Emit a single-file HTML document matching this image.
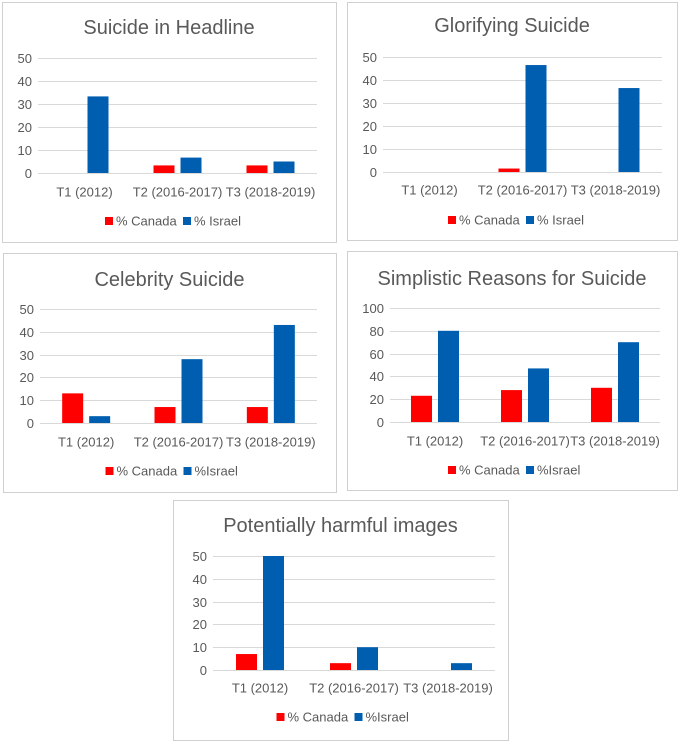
<!DOCTYPE html>
<html><head><meta charset="utf-8"><style>
body{margin:0;background:#fff;width:681px;height:742px;overflow:hidden}
svg{display:block}
text{font-family:"Liberation Sans",sans-serif;fill:#595959}
</style></head><body>
<svg id="c" width="681" height="742" xmlns="http://www.w3.org/2000/svg"></svg>
<script>
const categories = ["T1 (2012)", "T2 (2016-2017)", "T3 (2018-2019)"];
const titles = ["Suicide in Headline", "Glorifying Suicide", "Celebrity Suicide", "Simplistic Reasons for Suicide", "Potentially harmful images"];
const canadaValues = [[0, 3.3, 3.3], [0, 1.5, 0], [13, 7, 7], [23, 28, 30], [7, 3, 0]];
const israelValues = [[33.3, 6.7, 5], [0, 46.5, 36.5], [3, 28, 43], [80, 47, 70], [50, 10, 3]];
const yMax = [50, 50, 50, 100, 50];
const yStep = [10, 10, 10, 20, 10];
const legendCanada = ["% Canada", "% Canada", "% Canada", "% Canada", "% Canada"];
const legendIsrael = ["% Israel", "% Israel", "%Israel", "%Israel", "%Israel"];

const layouts = [
 {bx:2,by:2,bw:334,bh:240,px0:38,px1:317,py0:173,py1:58,ty:27,ly:192,gy:221},
 {bx:347,by:2,bw:330,bh:238,px0:383,px1:662,py0:172,py1:57,ty:25,ly:190,gy:220},
 {bx:3,by:253,bw:333,bh:239,px0:40,px1:317,py0:423,py1:309,ty:279,ly:442,gy:471},
 {bx:347,by:251,bw:330,bh:239,px0:390,px1:660,py0:422,py1:308,ty:278,ly:441,gy:470},
 {bx:173,by:500,bw:335,bh:240,px0:213,px1:495,py0:670,py1:556,ty:525,ly:688,gy:717}
];
const svg = document.getElementById('c');
const NS = "http://www.w3.org/2000/svg";
function mk(tag, attrs, parent){const e=document.createElementNS(NS,tag);for(const k in attrs)e.setAttribute(k,attrs[k]);parent.appendChild(e);return e;}

layouts.forEach((L,i)=>{
  const g = mk('g',{},svg);
  
  
  const b = mk('rect',{x:L.bx+0.5,y:L.by+0.5,width:L.bw,height:L.bh,fill:'#fff',stroke:'#d0d0d0','stroke-width':1},g);
  
  
  const t = mk('text',{x:L.bx+L.bw/2,y:L.ty+7,'text-anchor':'middle','font-size':20},g);
  t.textContent = titles[i];
  
  
  const yScale = v => L.py0 - (v / yMax[i]) * (L.py0 - L.py1);
  for(let v=0; v<=yMax[i]; v+=yStep[i]){
    const y = Math.round(yScale(v))+0.5;
    const gl = mk('line',{x1:L.px0,x2:L.px1,y1:y,y2:y,stroke:'#d9d9d9','stroke-width':1},g);
    
    
    const tl = mk('text',{x:L.px0-6,y:y+4.5,'text-anchor':'end','font-size':13},g);
    tl.textContent = v;
    
    
  }
  const cw = (L.px1 - L.px0)/categories.length;
  categories.forEach((c,j)=>{
    const cx = L.px0 + cw*(j+0.5);
    const vals = [canadaValues[i][j], israelValues[i][j]];
    const cols = ['#ff0000','#005eb0'];
    vals.forEach((v,k)=>{
      if(v<=0) return;
      const x = k===0 ? cx-24 : cx+3;
      const y = yScale(v);
      const r = mk('rect',{x:x,y:y,width:21,height:L.py0-y,fill:cols[k]},g);
      
      
    });
    const xl = mk('text',{x:cx,y:L.ly+4.5,'text-anchor':'middle','font-size':13},g);
    xl.textContent = c;
    
    
  });
  const lx = L.bx + L.bw/2;
  const l1 = mk('rect',{x:lx-64,y:L.gy-4,width:8,height:8,fill:'#ff0000'},g);
  
  
  const lt1 = mk('text',{x:lx-53,y:L.gy+4.5,'font-size':13},g);
  lt1.textContent = legendCanada[i];
  
  
  const l2 = mk('rect',{x:lx+14,y:L.gy-4,width:8,height:8,fill:'#005eb0'},g);
  
  
  const lt2 = mk('text',{x:lx+25,y:L.gy+4.5,'font-size':13},g);
  lt2.textContent = legendIsrael[i];
  
  
});
</script>
</body></html>
